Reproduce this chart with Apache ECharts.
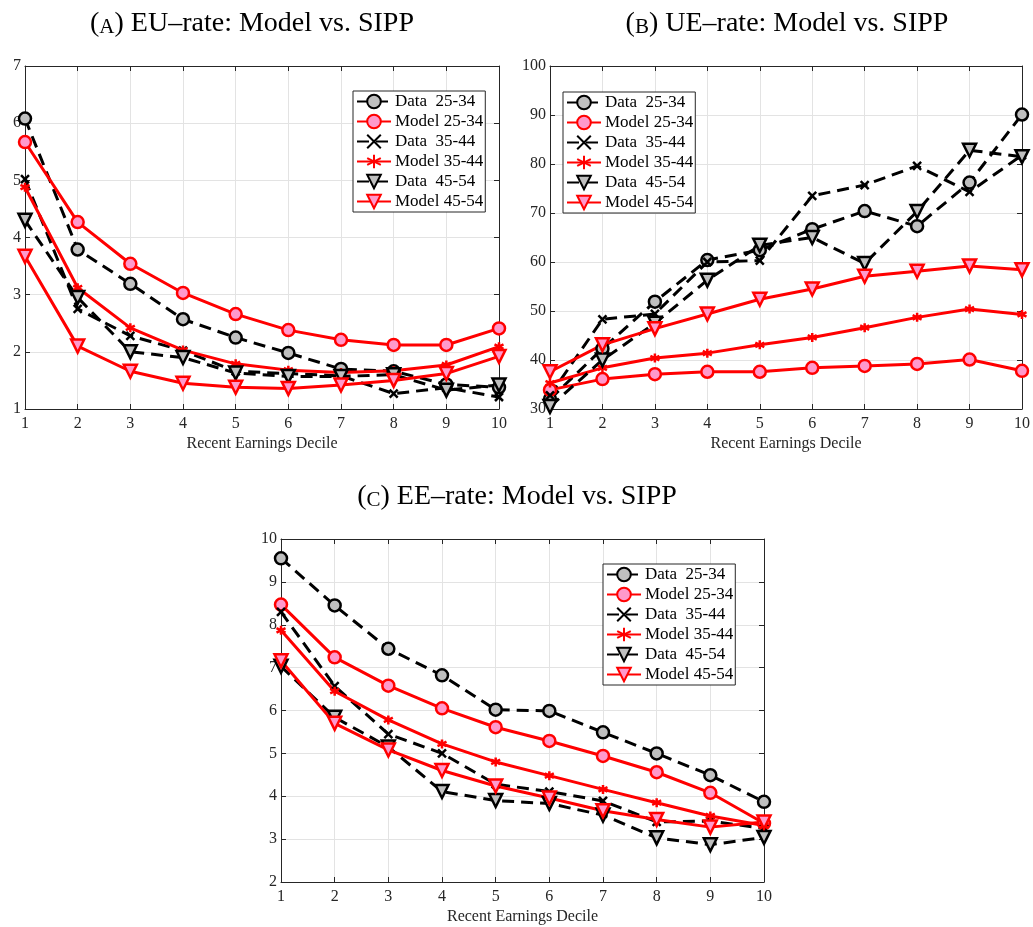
<!doctype html>
<html>
<head>
<meta charset="UTF-8">
<title>Model vs. SIPP</title>
<script src="https://cdn.jsdelivr.net/npm/echarts@6/dist/echarts.min.js"></script>
<style>
  html, body { margin: 0; padding: 0; background: #fff; }
  #main { width: 1033px; height: 927px; }
</style>
</head>
<body>
<div id="main"></div>
<script>
// deciles on the x axis
var deciles = [1, 2, 3, 4, 5, 6, 7, 8, 9, 10];
var seriesNames = ['Data  25-34', 'Model 25-34', 'Data  35-44', 'Model 35-44', 'Data  45-54', 'Model 45-54'];

// (A) EU-rate
var euData2534  = [6.08, 3.79, 3.19, 2.57, 2.25, 1.98, 1.70, 1.66, 1.43, 1.38];
var euModel2534 = [5.67, 4.27, 3.54, 3.03, 2.66, 2.38, 2.21, 2.12, 2.12, 2.41];
var euData3544  = [5.02, 2.75, 2.28, 2.02, 1.66, 1.62, 1.58, 1.27, 1.37, 1.21];
var euModel3544 = [4.88, 3.12, 2.42, 2.03, 1.79, 1.68, 1.64, 1.67, 1.77, 2.09];
var euData4554  = [4.30, 2.95, 2.00, 1.90, 1.63, 1.57, 1.57, 1.60, 1.33, 1.42];
var euModel4554 = [3.67, 2.10, 1.66, 1.45, 1.38, 1.36, 1.42, 1.50, 1.62, 1.92];

// (B) UE-rate
var ueData2534  = [32.0, 42.3, 51.9, 60.4, 62.4, 66.7, 70.4, 67.3, 76.2, 90.1];
var ueModel2534 = [33.9, 36.1, 37.1, 37.6, 37.6, 38.4, 38.8, 39.2, 40.1, 37.8];
var ueData3544  = [32.8, 48.3, 49.4, 60.0, 60.3, 73.5, 75.7, 79.6, 74.3, 81.8];
var ueModel3544 = [35.3, 38.4, 40.4, 41.4, 43.1, 44.6, 46.6, 48.7, 50.4, 49.3];
var ueData4554  = [30.5, 40.0, 47.5, 56.3, 63.4, 65.0, 59.7, 70.3, 82.8, 81.5];
var ueModel4554 = [37.6, 43.1, 46.4, 49.4, 52.4, 54.5, 57.1, 58.1, 59.2, 58.4];

// (C) EE-rate
var eeData2534  = [9.55, 8.45, 7.44, 6.82, 6.02, 5.99, 5.49, 5.00, 4.49, 3.87];
var eeModel2534 = [8.47, 7.24, 6.58, 6.05, 5.61, 5.29, 4.94, 4.56, 4.08, 3.37];
var eeData3544  = [8.30, 6.57, 5.45, 5.00, 4.28, 4.11, 3.89, 3.40, 3.42, 3.25];
var eeModel3544 = [7.87, 6.45, 5.78, 5.22, 4.80, 4.48, 4.16, 3.85, 3.54, 3.32];
var eeData4554  = [7.03, 5.84, 5.15, 4.11, 3.90, 3.83, 3.56, 3.03, 2.87, 3.04];
var eeModel4554 = [7.16, 5.70, 5.08, 4.60, 4.24, 3.96, 3.66, 3.46, 3.28, 3.40];

var font = '"Liberation Serif", "Times New Roman", serif';
var axisCol = '#262626';
var xPath = 'path://M0,0L10,10M10,0L0,10';
var starPath = 'path://M5,0L5,10M0,2.5L10,7.5M0,7.5L10,2.5';

// marker / line style for each of the six series
var looks = [
  { symbol: 'circle', size: 12, rotate: 0, data: true },
  { symbol: 'circle', size: 12, rotate: 0, data: false },
  { symbol: xPath, size: 8, rotate: 0, data: true },
  { symbol: starPath, size: 9, rotate: 0, data: false },
  { symbol: 'triangle', size: 13, rotate: 180, data: true },
  { symbol: 'triangle', size: 13, rotate: 180, data: false }
];

function pairs(vals) {
  return vals.map(function (v, i) { return [deciles[i], v]; });
}

function makeSeries(panel, lists) {
  return lists.map(function (vals, k) {
    var lk = looks[k];
    var col = lk.data ? '#000000' : '#ff0000';
    var isPath = lk.symbol.indexOf('path://') === 0;
    return {
      name: seriesNames[k],
      type: 'line',
      xAxisIndex: panel * 2,
      yAxisIndex: panel * 2,
      data: pairs(vals),
      symbol: lk.symbol,
      symbolSize: lk.size,
      symbolRotate: lk.rotate,
      showAllSymbol: true,
      lineStyle: { color: col, width: 3, type: lk.data ? [12, 7] : 'solid' },
      itemStyle: {
        color: isPath ? col : (lk.data ? '#bfbfbf' : '#ff99cc'),
        borderColor: col,
        borderWidth: 2.5
      },
      emphasis: { disabled: true }
    };
  });
}

var grids = [
  { left: 25, top: 66, width: 474, height: 343 },
  { left: 550, top: 66, width: 473, height: 343 },
  { left: 281, top: 539, width: 483, height: 343 }
];
var yRanges = [[1, 7, 1], [30, 100, 10], [2, 10, 1]];

var xAxes = [], yAxes = [];
grids.forEach(function (g, i) {
  xAxes.push({
    type: 'value', gridIndex: i, min: 1, max: 10, interval: 1,
    name: 'Recent Earnings Decile', nameLocation: 'middle', nameGap: 27,
    nameTextStyle: { fontFamily: font, fontSize: 16, color: axisCol },
    axisLine: { lineStyle: { color: axisCol, width: 1 } },
    axisTick: { inside: true, length: 5, lineStyle: { color: axisCol } },
    axisLabel: { fontFamily: font, fontSize: 16, color: axisCol, margin: 7 },
    splitLine: { show: true, lineStyle: { color: '#e3e3e3', width: 1 } }
  });
  xAxes.push({
    type: 'value', gridIndex: i, min: 1, max: 10, interval: 1, position: 'top',
    axisLine: { lineStyle: { color: axisCol, width: 1 } },
    axisTick: { inside: true, length: 5, lineStyle: { color: axisCol } },
    axisLabel: { show: false }, splitLine: { show: false }
  });
  var r = yRanges[i];
  yAxes.push({
    type: 'value', gridIndex: i, min: r[0], max: r[1], interval: r[2],
    axisLine: { show: true, lineStyle: { color: axisCol, width: 1 } },
    axisTick: { show: true, inside: true, length: 5, lineStyle: { color: axisCol } },
    axisLabel: { fontFamily: font, fontSize: 16, color: axisCol, margin: 4 },
    splitLine: { show: true, lineStyle: { color: '#e3e3e3', width: 1 } }
  });
  yAxes.push({
    type: 'value', gridIndex: i, min: r[0], max: r[1], interval: r[2], position: 'right',
    axisLine: { show: true, lineStyle: { color: axisCol, width: 1 } },
    axisTick: { show: true, inside: true, length: 5, lineStyle: { color: axisCol } },
    axisLabel: { show: false }, splitLine: { show: false }
  });
});

function legendAt(left, top) {
  return {
    orient: 'vertical', left: left, top: top,
    data: seriesNames,
    backgroundColor: '#ffffff', borderColor: axisCol, borderWidth: 1,
    borderRadius: 0, padding: [2, 2, 2, 3],
    itemWidth: 34, itemHeight: 17, itemGap: 3,
    selectedMode: false,
    textStyle: { fontFamily: font, fontSize: 17, color: '#000', padding: [0, 0, 0, -1] }
  };
}

function titleAt(x, y, letter, rest) {
  return {
    text: '(' + '{sc|' + letter + '}' + ') ' + rest,
    left: x, top: y, textAlign: 'center',
    textStyle: {
      fontFamily: font, fontSize: 28, fontWeight: 'normal', color: '#000',
      rich: { sc: { fontFamily: font, fontSize: 21, color: '#000', verticalAlign: 'bottom' } }
    }
  };
}

var chart = echarts.init(document.getElementById('main'));
chart.setOption({
  animation: false,
  backgroundColor: '#ffffff',
  title: [
    titleAt(247, 5, 'A', 'EU–rate: Model vs. SIPP'),
    titleAt(782, 5, 'B', 'UE–rate: Model vs. SIPP'),
    titleAt(512, 478, 'C', 'EE–rate: Model vs. SIPP')
  ],
  legend: [legendAt(353, 91), legendAt(563, 92), legendAt(603, 564)],
  grid: grids,
  xAxis: xAxes,
  yAxis: yAxes,
  series: [].concat(
    makeSeries(0, [euData2534, euModel2534, euData3544, euModel3544, euData4554, euModel4554]),
    makeSeries(1, [ueData2534, ueModel2534, ueData3544, ueModel3544, ueData4554, ueModel4554]),
    makeSeries(2, [eeData2534, eeModel2534, eeData3544, eeModel3544, eeData4554, eeModel4554])
  )
});
</script>
</body>
</html>
